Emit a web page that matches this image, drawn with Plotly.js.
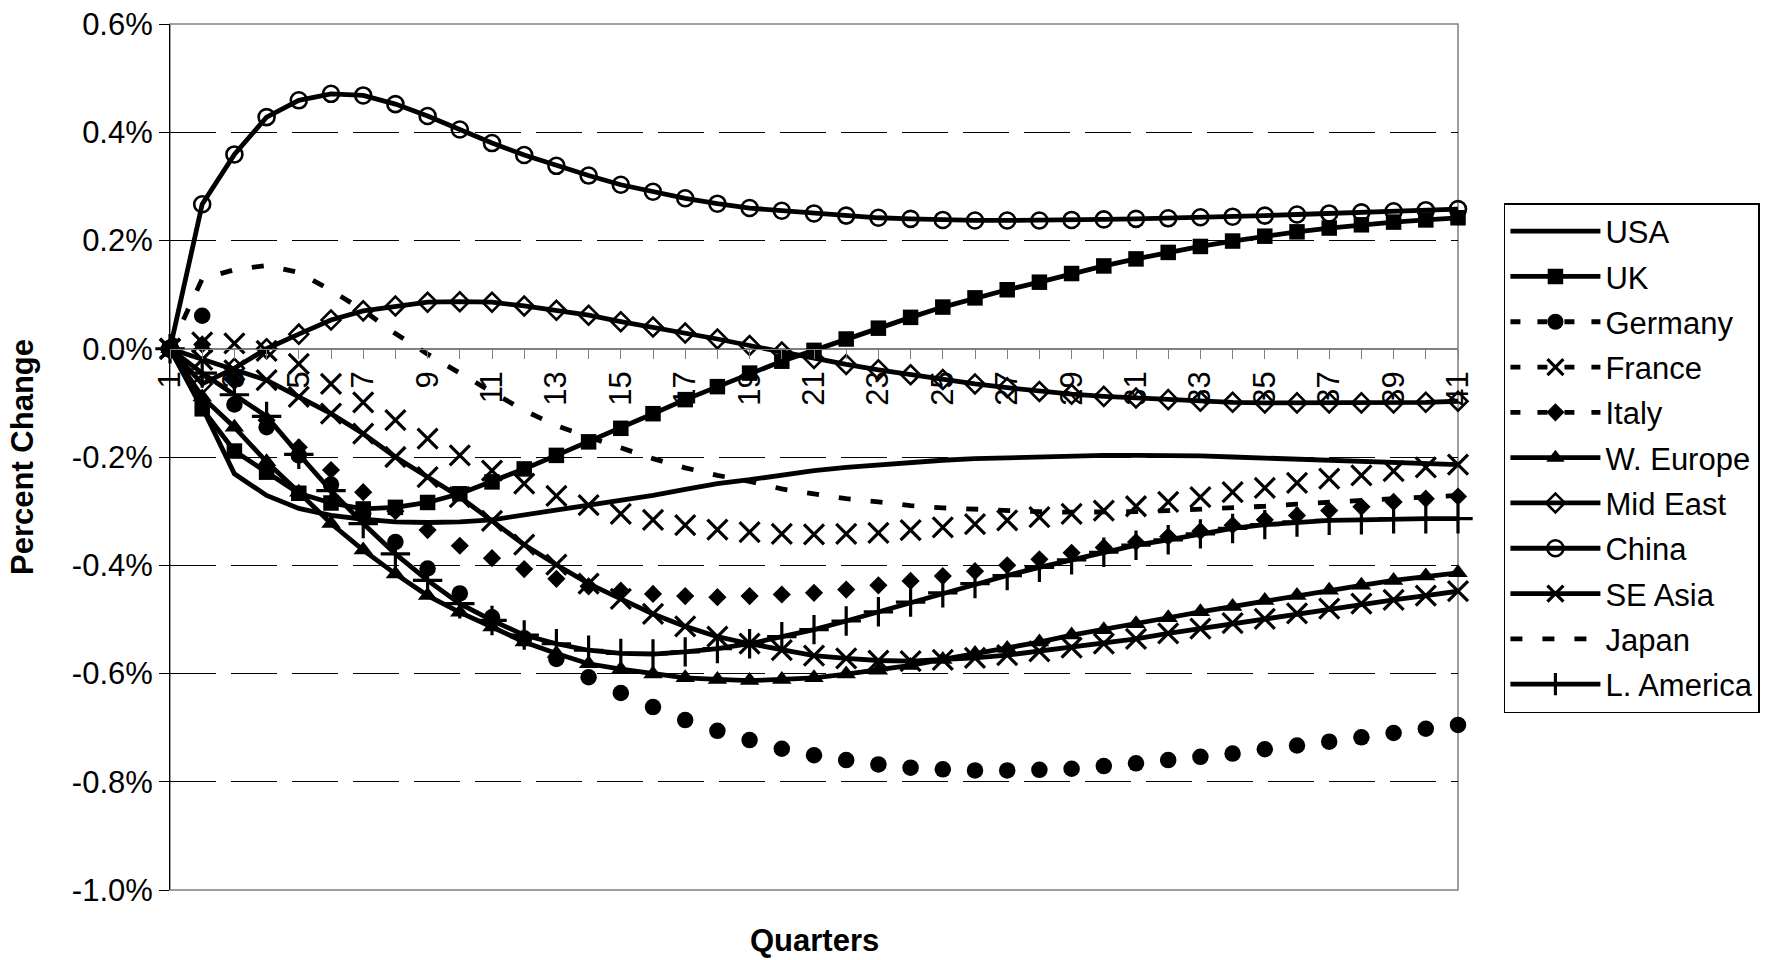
<!DOCTYPE html>
<html><head><meta charset="utf-8">
<script src="https://cdn.plot.ly/plotly-3.0.1.min.js"></script>
<style>html,body{margin:0;padding:0;background:#fff}#chart{width:1772px;height:960px}</style>
</head><body><div id="chart"></div>
<script>
const quarters = [1,2,3,4,5,6,7,8,9,10,11,12,13,14,15,16,17,18,19,20,21,22,23,24,25,26,27,28,29,30,31,32,33,34,35,36,37,38,39,40,41];
const xTickLabels = ["1","","3","","5","","7","","9","","11","","13","","15","","17","","19","","21","","23","","25","","27","","29","","31","","33","","35","","37","","39","","41"];
const yTickVals = [-1.0,-0.8,-0.6,-0.4,-0.2,0.0,0.2,0.4,0.6];
const yTickLabels = ["-1.0%","-0.8%","-0.6%","-0.4%","-0.2%","0.0%","0.2%","0.4%","0.6%"];

const usa = [0,-0.108,-0.231,-0.271,-0.295,-0.308,-0.315,-0.320,-0.321,-0.320,-0.316,-0.307,-0.299,-0.289,-0.280,-0.271,-0.260,-0.249,-0.242,-0.233,-0.225,-0.219,-0.214,-0.209,-0.206,-0.203,-0.201,-0.200,-0.198,-0.197,-0.197,-0.197,-0.198,-0.200,-0.202,-0.204,-0.205,-0.207,-0.209,-0.211,-0.214];
const uk = [0,-0.111,-0.189,-0.228,-0.267,-0.285,-0.296,-0.293,-0.284,-0.268,-0.246,-0.222,-0.197,-0.172,-0.147,-0.120,-0.094,-0.070,-0.045,-0.023,-0.003,0.018,0.038,0.058,0.077,0.094,0.109,0.123,0.139,0.153,0.166,0.178,0.189,0.199,0.208,0.216,0.223,0.229,0.234,0.238,0.242];
const germany = [0,0.061,-0.103,-0.145,-0.197,-0.251,-0.305,-0.357,-0.406,-0.452,-0.496,-0.535,-0.573,-0.607,-0.636,-0.662,-0.686,-0.706,-0.723,-0.739,-0.751,-0.760,-0.768,-0.774,-0.777,-0.779,-0.779,-0.778,-0.776,-0.771,-0.766,-0.760,-0.754,-0.748,-0.740,-0.733,-0.726,-0.718,-0.710,-0.702,-0.695];
const france = [0,0.012,0.010,-0.004,-0.028,-0.065,-0.099,-0.132,-0.166,-0.197,-0.225,-0.249,-0.272,-0.289,-0.305,-0.316,-0.326,-0.334,-0.339,-0.342,-0.343,-0.342,-0.340,-0.335,-0.330,-0.324,-0.317,-0.311,-0.305,-0.299,-0.291,-0.283,-0.274,-0.265,-0.257,-0.248,-0.240,-0.234,-0.226,-0.219,-0.214];
const italy = [0,0.008,-0.060,-0.132,-0.182,-0.224,-0.265,-0.300,-0.335,-0.364,-0.387,-0.407,-0.425,-0.439,-0.447,-0.453,-0.457,-0.459,-0.457,-0.454,-0.451,-0.445,-0.437,-0.429,-0.420,-0.411,-0.400,-0.389,-0.377,-0.367,-0.357,-0.347,-0.337,-0.326,-0.316,-0.308,-0.299,-0.292,-0.283,-0.277,-0.273];
const wEurope = [0,-0.089,-0.145,-0.209,-0.265,-0.323,-0.372,-0.416,-0.456,-0.487,-0.514,-0.542,-0.563,-0.582,-0.592,-0.601,-0.608,-0.611,-0.613,-0.611,-0.608,-0.601,-0.594,-0.585,-0.574,-0.563,-0.554,-0.542,-0.529,-0.519,-0.508,-0.497,-0.486,-0.476,-0.465,-0.456,-0.446,-0.437,-0.428,-0.420,-0.414];
const midEast = [0,-0.065,-0.036,0.000,0.027,0.053,0.070,0.079,0.086,0.087,0.086,0.079,0.071,0.062,0.050,0.040,0.029,0.018,0.006,-0.006,-0.018,-0.029,-0.039,-0.048,-0.057,-0.065,-0.072,-0.079,-0.084,-0.088,-0.091,-0.094,-0.097,-0.099,-0.100,-0.100,-0.100,-0.100,-0.100,-0.099,-0.097];
const china = [0,0.267,0.359,0.428,0.459,0.471,0.468,0.452,0.430,0.405,0.380,0.358,0.338,0.320,0.303,0.290,0.278,0.268,0.260,0.255,0.250,0.246,0.242,0.240,0.238,0.237,0.237,0.237,0.238,0.239,0.240,0.241,0.243,0.244,0.246,0.248,0.250,0.252,0.254,0.256,0.258];
const seAsia = [0,-0.020,-0.040,-0.058,-0.089,-0.120,-0.157,-0.200,-0.237,-0.274,-0.318,-0.362,-0.399,-0.434,-0.462,-0.490,-0.513,-0.532,-0.545,-0.557,-0.567,-0.572,-0.576,-0.577,-0.575,-0.571,-0.566,-0.559,-0.552,-0.545,-0.536,-0.526,-0.517,-0.507,-0.499,-0.489,-0.480,-0.471,-0.464,-0.456,-0.448];
const japan = [0,0.129,0.146,0.154,0.141,0.108,0.071,0.028,-0.010,-0.046,-0.080,-0.114,-0.142,-0.163,-0.183,-0.203,-0.220,-0.234,-0.245,-0.259,-0.268,-0.277,-0.283,-0.290,-0.294,-0.297,-0.300,-0.301,-0.302,-0.302,-0.301,-0.299,-0.297,-0.294,-0.291,-0.287,-0.283,-0.280,-0.277,-0.274,-0.271];
const lAmerica = [0,-0.045,-0.085,-0.125,-0.195,-0.262,-0.323,-0.379,-0.428,-0.471,-0.502,-0.529,-0.545,-0.557,-0.563,-0.564,-0.560,-0.554,-0.545,-0.532,-0.519,-0.503,-0.486,-0.468,-0.451,-0.434,-0.419,-0.404,-0.390,-0.376,-0.363,-0.353,-0.342,-0.332,-0.325,-0.320,-0.317,-0.316,-0.314,-0.314,-0.314];

const yRange = [-1.0, 0.6];
const K = 'black';
const LW = 4.8;
const traces = [];

function add(name, y, mode, line, marker) {
  const t = {x: quarters, y: y, name: name, legendgroup: name, mode: mode,
    line: line, cliponaxis: false, hoverinfo: 'skip'};
  if (marker) t.marker = marker;
  traces.push(t);
}
// markers-only series with a legend proxy that shows the dashed style
function addDotted(name, y, marker) {
  traces.push({x: quarters, y: y, name: name, legendgroup: name, mode: 'markers',
    marker: marker, showlegend: false, cliponaxis: false, hoverinfo: 'skip'});
  traces.push({x: [null], y: [null], name: name, legendgroup: name, mode: 'lines+markers',
    line: {color: K, width: LW, dash: '10px,17px'}, marker: marker, hoverinfo: 'skip'});
}

add('USA', usa, 'lines', {color: K, width: LW});
add('UK', uk, 'lines+markers', {color: K, width: LW}, {symbol: 'square', size: 15.5, color: K});
addDotted('Germany', germany, {symbol: 'circle', size: 16.5, color: K});
addDotted('France', france, {symbol: 'x-thin-open', size: 20, color: K, line: {color: K, width: 3.2}});
addDotted('Italy', italy, {symbol: 'diamond', size: 14, color: K});
add('W. Europe', wEurope, 'lines+markers', {color: K, width: LW}, {symbol: 'triangle-up', size: 17, color: K});
add('Mid East', midEast, 'lines+markers', {color: K, width: LW}, {symbol: 'diamond-open', size: 14.5, color: K, line: {color: K, width: 2.6}});
add('China', china, 'lines+markers', {color: K, width: LW}, {symbol: 'circle-open', size: 16, color: K, line: {color: K, width: 2.6}});
add('SE Asia', seAsia, 'lines+markers', {color: K, width: LW}, {symbol: 'x-thin-open', size: 20, color: K, line: {color: K, width: 3.2}});
add('Japan', japan, 'lines', {color: K, width: LW, dash: '12px,20px'});
add('L. America', lAmerica, 'lines+markers', {color: K, width: LW}, {symbol: 'cross-thin-open', size: 21, color: K, line: {color: K, width: 3.2}});

const plotL = 170, plotR = 1460, plotT = 24, plotB = 890, W = 1772, H = 960;
const zeroPos = (0 - yRange[0]) / (yRange[1] - yRange[0]);
const FONT = 'Liberation Sans, Arial, Helvetica, sans-serif';

const layout = {
  width: W, height: H,
  margin: {l: plotL, r: W - plotR, t: plotT, b: H - plotB, pad: 0},
  paper_bgcolor: 'white', plot_bgcolor: 'white',
  font: {family: FONT, size: 31, color: K},
  showlegend: true,
  xaxis: {
    type: 'linear', range: [quarters[0], quarters[quarters.length - 1]],
    anchor: 'free', position: zeroPos,
    tickmode: 'array', tickvals: quarters, ticktext: xTickLabels, tickangle: -90,
    ticks: 'outside', ticklen: 9, tickwidth: 1, tickcolor: '#808080',
    showline: true, linecolor: '#808080', linewidth: 1,
    showgrid: false, zeroline: false, tickfont: {size: 31}, automargin: false
  },
  yaxis: {
    range: yRange, tickmode: 'array', tickvals: yTickVals, ticktext: yTickLabels,
    ticks: 'outside', ticklen: 10, tickwidth: 1, tickcolor: K,
    showline: true, linecolor: K, linewidth: 1,
    showgrid: true, gridcolor: K, gridwidth: 1, griddash: '46px,15px',
    zeroline: true, zerolinecolor: '#808080', zerolinewidth: 1,
    tickfont: {size: 31}, automargin: false,
    title: {text: '<b>Percent Change</b>', font: {size: 31}, standoff: 28}
  },
  shapes: [{type: 'rect', xref: 'paper', yref: 'paper', x0: 0, x1: 1, y0: 0, y1: 1,
    line: {color: '#808080', width: 1.5}, layer: 'below'}],
  annotations: [{text: '<b>Quarters</b>', xref: 'paper', yref: 'paper', x: 0.5,
    y: (plotB - 941) / (plotB - plotT), xanchor: 'center', yanchor: 'middle',
    showarrow: false, font: {size: 31}}],
  legend: {
    x: (1506 - plotL) / (plotR - plotL), y: (plotB - 203) / (plotB - plotT),
    xanchor: 'left', yanchor: 'top', bordercolor: K, borderwidth: 1.5,
    bgcolor: 'white', font: {size: 31}, tracegroupgap: 2, itemwidth: 90
  }
};

Plotly.newPlot('chart', traces, layout, {staticPlot: true, displayModeBar: false});
</script>
</body></html>
